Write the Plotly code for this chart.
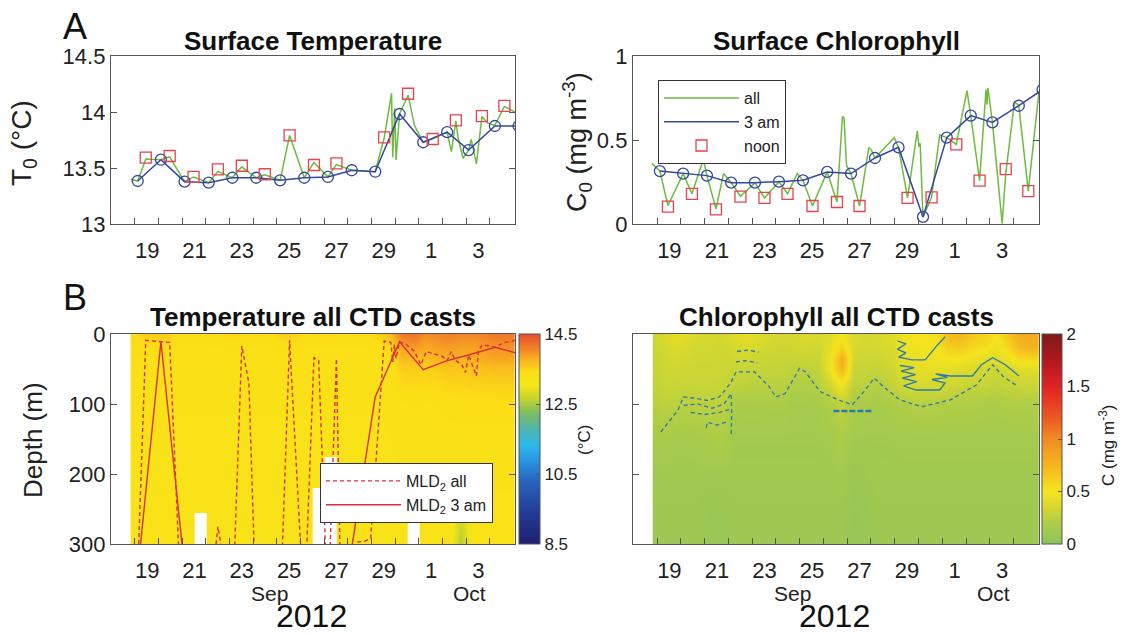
import numpy as np
import plotly.graph_objects as go

W, H = 1126, 634
def px(x): return x / W
def py(y): return 1 - y / H

FONT = "Liberation Sans, Arial, sans-serif"
GREEN = "#6dbb3f"
BLUE = "#34479b"
RED = "#e8414f"
MLDRED = "#d9303e"
CBLUE = "#2b79ad"
AX = "#555555"

# ---------------- data ----------------
day_ticks = [19, 21, 23, 25, 27, 29, 31, 33]
day_labels = ["19", "21", "23", "25", "27", "29", "1", "3"]
minor_ticks = [18.48, 19.48, 20.48, 21.48, 22.48, 23.48, 24.48, 25.48,
               26.48, 27.48, 28.48, 29.48, 30.48, 31.48, 32.48, 33.48]

# 3 am casts and noon casts (days since 1 Sep 2012; Oct 1 = 31)
t_3am = [18.6, 19.58, 20.58, 21.6, 22.6, 23.61, 24.62, 25.64, 26.64, 27.65,
         28.64, 29.67, 30.67, 31.68, 32.59, 33.7, 34.7]
T_3am = [13.384, 13.574, 13.378, 13.369, 13.413, 13.413, 13.39, 13.413, 13.42,
         13.48, 13.467, 13.982, 13.73, 13.82, 13.66, 13.875, 13.875]
C_3am = [0.315, 0.30, 0.288, 0.246, 0.246, 0.252, 0.26, 0.31, 0.30, 0.393,
         0.456, 0.042, 0.514, 0.645, 0.605, 0.704, 0.80]
MLD_3am = [340, 11, 335, 400, 400, 400, 400, 400, 400, 305, 90, 11, 51, 38, 30, 19, 28]

t_noon = [18.94, 19.95, 20.96, 21.99, 23.0, 23.97, 25.02, 26.05, 27.0, 29.02,
          30.03, 31.07, 32.05, 33.15, 34.1]
T_noon = [13.592, 13.607, 13.42, 13.488, 13.52, 13.444, 13.792, 13.527, 13.542,
          13.774, 14.163, 13.759, 13.926, 13.964, 14.054]
C_noon = [0.103, 0.179, 0.087, 0.163, 0.155, 0.179, 0.107, 0.131, 0.107, 0.155,
          0.159, 0.474, 0.258, 0.327, 0.196]

# all casts, surface temperature
t_all_T = [18.30, 18.6, 18.94, 19.58, 19.95, 20.58, 20.96, 21.6, 21.99, 22.6, 23.0,
           23.61, 23.97, 24.62, 25.02, 25.64, 26.05, 26.64, 27.0, 27.65, 28.64, 29.02,
           29.33, 29.38, 29.47, 29.52, 29.67, 30.03, 30.3, 30.67, 31.07, 31.68, 31.86,
           32.05, 32.14, 32.35, 32.59, 32.70, 32.92, 33.15, 33.4, 33.7, 34.1, 34.55]
T_all = [13.40, 13.384, 13.58, 13.574, 13.60, 13.378, 13.42, 13.369, 13.47, 13.413,
         13.51, 13.413, 13.44, 13.39, 13.79, 13.413, 13.55, 13.42, 13.53, 13.48, 13.467,
         13.77, 14.167, 13.596, 14.033, 13.571, 13.982, 14.15, 13.88, 13.73, 13.76,
         13.82, 13.646, 13.92, 13.774, 13.587, 13.66, 13.756, 13.536, 13.96, 13.9,
         13.88, 14.05, 14.0]

# all casts, surface chlorophyll
t_all_C = [18.26, 18.6, 18.94, 19.58, 19.95, 20.43, 20.58, 20.96, 21.28, 21.6, 21.99,
           22.6, 23.0, 23.61, 23.97, 24.38, 24.62, 25.02, 25.64, 26.05, 26.28, 26.35,
           26.45, 26.64, 27.0, 27.39, 27.5, 27.65, 28.46, 28.64, 29.02, 29.43, 29.5,
           29.55, 29.67, 30.03, 30.37, 30.67, 31.07, 31.52, 31.68, 32.05, 32.32, 32.36,
           32.4, 32.59, 33.0, 33.15, 33.52, 33.7, 34.1, 34.54]
C_all = [0.361, 0.315, 0.11, 0.30, 0.18, 0.385, 0.288, 0.09, 0.30, 0.246, 0.165,
         0.246, 0.155, 0.252, 0.18, 0.30, 0.26, 0.107, 0.31, 0.131, 0.64, 0.63,
         0.35, 0.30, 0.107, 0.455, 0.44, 0.393, 0.514, 0.456, 0.155, 0.555, 0.46,
         0.48, 0.042, 0.159, 0.53, 0.514, 0.474, 0.794, 0.645, 0.258, 0.80, 0.71,
         0.81, 0.605, 0.004, 0.30, 0.728, 0.704, 0.196, 0.778]

# mixed layer depth, all casts
t_mld_all = [18.6, 18.94, 19.58, 19.95, 20.4, 20.96, 21.6, 21.99, 22.6, 23.0, 23.3,
             23.61, 23.97, 24.62, 25.02, 25.64, 26.05, 26.25, 26.64, 27.0, 27.2, 27.65,
             27.92, 28.2, 28.45, 29.02, 29.3, 29.38, 29.45, 29.52, 29.67, 29.96, 30.3,
             30.57, 30.8, 31.07, 31.48, 31.68, 31.86, 32.01, 32.3, 32.46, 32.59, 32.7,
             32.92, 33.0, 33.15, 33.3, 33.7, 34.1, 34.36, 34.55]
MLD_all = [340, 9, 11, 12, 360, 400, 400, 275, 400, 17, 70, 400, 400, 400, 9, 400,
           34, 38, 400, 35, 400, 305, 297, 296, 292, 10, 12, 40, 15, 35, 11, 15, 25,
           44, 25, 28, 32, 38, 25, 37, 44, 55, 30, 40, 60, 25, 16, 16, 19, 12, 11, 9]

# CTD grid (column centres in days, depth levels in m)
grid_days = [18.45, 18.75, 19.25, 19.75, 20.25, 20.75, 21.25, 21.75, 22.25, 22.75,
             23.25, 23.75, 24.25, 24.75, 25.25, 25.75, 26.25, 26.75, 27.25, 27.75,
             28.25, 28.75, 29.25, 29.75, 30.25, 30.75, 31.25, 31.75, 32.25, 32.75,
             33.25, 33.75, 34.25, 34.6]
grid_depth = [0, 10, 20, 35, 50, 75, 100, 150, 200, 240, 270, 300]

N = None
temp_cols = [
    [13.45, 13.40, 13.37, 13.35, 13.33, 13.31, 13.29, 13.27, 13.25, 13.23, 13.22, 13.21],
    [13.55, 13.45, 13.40, 13.35, 13.33, 13.31, 13.29, 13.27, 13.25, 13.23, 13.22, 13.21],
    [13.58, 13.47, 13.40, 13.35, 13.33, 13.31, 13.29, 13.27, 13.25, 13.23, 13.22, 13.21],
    [13.58, 13.50, 13.41, 13.36, 13.33, 13.31, 13.29, 13.27, 13.25, 13.23, 13.22, 13.21],
    [13.40, 13.37, 13.35, 13.33, 13.31, 13.29, 13.27, 13.25, 13.23, 13.22, 13.21, 13.20],
    [13.39, 13.37, 13.35, 13.33, 13.31, 13.29, 13.27, 13.25, 13.23, 13.22, 13.21, 13.20],
    [13.39, 13.37, 13.35, 13.33, 13.31, 13.29, 13.27, 13.25, 13.23, 13.22, N, N],
    [13.43, 13.39, 13.36, 13.33, 13.31, 13.29, 13.27, 13.25, 13.23, 13.22, 13.21, 13.20],
    [13.45, 13.40, 13.36, 13.33, 13.31, 13.29, 13.27, 13.25, 13.23, 13.22, 13.21, 13.20],
    [13.47, 13.41, 13.37, 13.34, 13.31, 13.29, 13.27, 13.25, 13.23, 13.22, 13.21, 13.20],
    [13.43, 13.39, 13.36, 13.33, 13.31, 13.29, 13.27, 13.25, 13.23, 13.22, 13.21, 13.20],
    [13.40, 13.37, 13.35, 13.33, 13.31, 13.29, 13.27, 13.25, 13.23, 13.22, 13.21, 13.20],
    [13.40, 13.37, 13.35, 13.33, 13.31, 13.29, 13.27, 13.25, 13.23, 13.22, 13.21, 13.20],
    [13.57, 13.45, 13.38, 13.34, 13.31, 13.29, 13.27, 13.25, 13.23, 13.22, 13.21, 13.20],
    [13.53, 13.43, 13.37, 13.33, 13.31, 13.29, 13.27, 13.25, 13.23, 13.22, 13.21, 13.20],
    [13.41, 13.38, 13.35, 13.33, 13.31, 13.29, 13.27, 13.25, 13.23, 13.22, 13.21, 13.20],
    [13.45, 13.40, 13.36, 13.33, 13.31, 13.29, 13.27, 13.25, 13.23, N, N, N],
    [13.45, 13.40, 13.36, 13.33, 13.31, 13.29, 13.27, 13.25, N, N, N, N],
    [13.41, 13.38, 13.35, 13.33, 13.31, 13.29, 13.27, 13.25, 13.23, 13.22, 13.21, 13.20],
    [13.43, 13.39, 13.36, 13.33, 13.31, 13.29, 13.27, 13.25, 13.23, 13.22, 13.21, 13.20],
    [13.41, 13.38, 13.35, 13.33, 13.31, 13.29, 13.27, 13.25, 13.23, 13.22, 13.21, 13.20],
    [13.50, 13.43, 13.38, 13.34, 13.31, 13.29, 13.27, 13.25, 13.23, 13.22, 13.21, 13.20],
    [13.70, 13.55, 13.43, 13.37, 13.33, 13.30, 13.28, 13.26, 13.24, 13.22, 13.21, 13.20],
    [14.15, 14.00, 13.85, 13.70, 13.55, 13.43, 13.35, 13.30, 13.27, 13.25, 13.23, 13.22],
    [14.20, 14.05, 13.90, 13.70, 13.55, 13.45, 13.37, 13.31, 13.27, N, N, N],
    [14.00, 13.90, 13.80, 13.67, 13.53, 13.43, 13.35, 13.30, 13.27, 13.25, 13.23, 13.22],
    [14.05, 13.95, 13.85, 13.73, 13.57, 13.45, 13.37, 13.31, 13.27, 13.25, 13.23, 13.22],
    [14.10, 14.00, 13.90, 13.77, 13.61, 13.47, 13.39, 13.32, 13.27, 13.25, 13.23, 13.22],
    [14.05, 13.95, 13.85, 13.75, 13.60, 13.47, 13.39, 13.33, 13.27, 13.05, 12.70, 12.55],
    [14.05, 13.95, 13.87, 13.77, 13.65, 13.50, 13.40, 13.33, 13.27, 13.25, 13.23, 13.22],
    [14.10, 14.00, 13.90, 13.80, 13.65, 13.50, 13.41, 13.33, 13.28, 13.25, 13.23, 13.22],
    [14.15, 14.05, 13.95, 13.83, 13.67, 13.51, 13.41, 13.33, 13.28, 13.25, 13.23, 13.22],
    [14.15, 14.05, 13.95, 13.83, 13.67, 13.51, 13.41, 13.33, 13.28, 13.25, 13.23, 13.22],
    [14.15, 14.05, 13.95, 13.83, 13.67, 13.51, 13.41, 13.33, 13.28, 13.25, 13.23, 13.22],
]

chl_cols = [
    [0.33, 0.33, 0.32, 0.31, 0.30, 0.28, 0.24, 0.16, 0.12, 0.11, 0.10, 0.10],
    [0.36, 0.36, 0.35, 0.33, 0.32, 0.30, 0.26, 0.17, 0.12, 0.11, 0.10, 0.10],
    [0.42, 0.40, 0.38, 0.35, 0.33, 0.30, 0.25, 0.15, 0.12, 0.11, 0.10, 0.10],
    [0.40, 0.38, 0.36, 0.34, 0.32, 0.30, 0.24, 0.15, 0.12, 0.11, 0.10, 0.10],
    [0.36, 0.35, 0.34, 0.33, 0.32, 0.30, 0.25, 0.16, 0.12, 0.11, 0.10, 0.10],
    [0.35, 0.35, 0.34, 0.33, 0.32, 0.30, 0.26, 0.18, 0.12, 0.10, 0.08, 0.08],
    [0.34, 0.34, 0.33, 0.32, 0.31, 0.30, 0.25, 0.20, 0.12, 0.10, 0.08, 0.08],
    [0.40, 0.38, 0.36, 0.33, 0.30, 0.26, 0.18, 0.13, 0.12, 0.11, 0.10, 0.10],
    [0.42, 0.40, 0.37, 0.33, 0.30, 0.25, 0.17, 0.13, 0.12, 0.11, 0.10, 0.10],
    [0.40, 0.38, 0.35, 0.32, 0.28, 0.24, 0.17, 0.13, 0.12, 0.11, 0.10, 0.10],
    [0.36, 0.35, 0.33, 0.31, 0.28, 0.24, 0.18, 0.13, 0.12, 0.11, 0.10, 0.10],
    [0.35, 0.34, 0.32, 0.30, 0.28, 0.24, 0.18, 0.13, 0.12, 0.11, 0.10, 0.10],
    [0.36, 0.35, 0.33, 0.30, 0.26, 0.20, 0.15, 0.13, 0.12, 0.11, 0.10, 0.10],
    [0.38, 0.36, 0.34, 0.30, 0.26, 0.20, 0.15, 0.13, 0.12, 0.11, 0.10, 0.10],
    [0.36, 0.35, 0.33, 0.31, 0.28, 0.22, 0.16, 0.13, 0.12, 0.11, 0.10, 0.10],
    [0.40, 0.40, 0.42, 0.45, 0.45, 0.32, 0.20, 0.14, 0.12, 0.11, 0.10, 0.10],
    [0.50, 0.52, 0.60, 0.80, 0.75, 0.45, 0.28, 0.18, 0.13, 0.11, 0.10, 0.10],
    [0.36, 0.36, 0.35, 0.33, 0.30, 0.25, 0.18, 0.13, 0.10, 0.08, 0.07, 0.07],
    [0.35, 0.35, 0.34, 0.32, 0.30, 0.24, 0.17, 0.13, 0.11, 0.09, 0.08, 0.08],
    [0.36, 0.36, 0.35, 0.32, 0.28, 0.22, 0.16, 0.13, 0.12, 0.11, 0.10, 0.10],
    [0.38, 0.38, 0.36, 0.34, 0.32, 0.26, 0.18, 0.13, 0.12, 0.11, 0.10, 0.10],
    [0.45, 0.45, 0.44, 0.42, 0.38, 0.32, 0.20, 0.14, 0.12, 0.11, 0.10, 0.10],
    [0.50, 0.50, 0.48, 0.45, 0.42, 0.35, 0.22, 0.14, 0.12, 0.11, 0.10, 0.10],
    [0.50, 0.50, 0.48, 0.46, 0.42, 0.35, 0.22, 0.14, 0.12, 0.11, 0.10, 0.10],
    [0.52, 0.52, 0.50, 0.47, 0.43, 0.35, 0.22, 0.14, 0.12, 0.11, 0.10, 0.10],
    [0.70, 0.68, 0.60, 0.50, 0.42, 0.32, 0.20, 0.14, 0.12, 0.11, 0.10, 0.10],
    [0.75, 0.70, 0.62, 0.50, 0.40, 0.30, 0.20, 0.14, 0.12, 0.11, 0.10, 0.10],
    [0.62, 0.60, 0.55, 0.45, 0.38, 0.28, 0.20, 0.14, 0.12, 0.11, 0.10, 0.10],
    [0.60, 0.58, 0.52, 0.42, 0.35, 0.28, 0.19, 0.14, 0.12, 0.11, 0.10, 0.10],
    [0.50, 0.48, 0.45, 0.40, 0.33, 0.26, 0.18, 0.14, 0.12, 0.11, 0.10, 0.10],
    [0.65, 0.62, 0.56, 0.45, 0.36, 0.28, 0.20, 0.14, 0.12, 0.11, 0.10, 0.10],
    [0.80, 0.78, 0.72, 0.55, 0.40, 0.30, 0.20, 0.14, 0.12, 0.11, 0.10, 0.10],
    [0.82, 0.80, 0.75, 0.56, 0.40, 0.30, 0.20, 0.14, 0.12, 0.11, 0.10, 0.10],
    [0.80, 0.78, 0.72, 0.55, 0.40, 0.30, 0.20, 0.14, 0.12, 0.11, 0.10, 0.10],
]

# chlorophyll isolines (all casts dashed, 3 am solid)
chl_dash_t = [18.64, 19.36, 19.59, 20.13, 20.6, 21.1, 21.58, 21.81, 22.58, 23.19, 23.49,
              23.87, 24.48, 24.72, 25.33, 26.09, 26.70, 27.24, 27.62, 28.0, 28.69, 29.61,
              30.83, 31.91, 32.6, 33.05, 33.67]
chl_dash_z = [140, 109, 90, 92, 95, 90, 70, 54, 54, 75, 90, 85, 49, 54, 82, 94, 101, 80,
              63, 75, 94, 104, 94, 73, 44, 61, 75]
chl_dash2_t = [19.6, 20.2, 20.8, 21.3, 21.6, 21.62, 21.6]
chl_dash2_z = [102, 100, 106, 100, 85, 115, 145]
chl_dash3_t = [19.9, 20.5, 21.1, 21.5]
chl_dash3_z = [112, 115, 112, 108]
chl_dash4_t = [20.55, 20.6, 21.0, 21.45]
chl_dash4_z = [134, 126, 130, 125]
chl_dash5_t = [21.8, 22.2, 22.7]
chl_dash5_z = [40, 38, 41]
chl_dash6_t = [21.85, 22.3, 22.75]
chl_dash6_z = [25, 23, 26]
chl_solid1_t = [28.6, 28.95, 28.6, 28.95, 28.65, 29.2, 29.76, 30.22, 30.6]
chl_solid1_z = [10, 14, 22, 27, 33, 37, 37, 18, 4]
chl_solid2_t = [28.7, 29.3, 28.75, 29.35, 28.8, 29.4, 28.85, 29.38, 30.37, 30.6, 30.05,
                30.7, 30.2, 30.83, 31.75, 32.13, 32.6, 33.13, 33.71]
chl_solid2_z = [45, 48, 53, 58, 63, 68, 74, 80, 80, 70, 65, 62, 57, 60, 60, 44, 34, 44, 60]
chl_deep_t = [25.9, 27.5]
chl_deep_z = [110, 110]

temp_scale = [
    [0.0, "rgb(30,30,110)"], [0.15, "rgb(35,60,150)"], [0.30, "rgb(40,100,190)"],
    [0.40, "rgb(40,150,225)"], [0.47, "rgb(45,185,235)"], [0.55, "rgb(80,180,170)"],
    [0.63, "rgb(130,190,90)"], [0.70, "rgb(205,215,40)"], [0.76, "rgb(246,230,25)"],
    [0.82, "rgb(252,222,22)"], [0.87, "rgb(250,185,30)"], [0.93, "rgb(242,130,40)"],
    [1.0, "rgb(232,78,45)"]]
chl_scale = [
    [0.0, "rgb(140,195,95)"], [0.10, "rgb(175,205,70)"], [0.20, "rgb(225,220,40)"],
    [0.25, "rgb(245,228,30)"], [0.35, "rgb(245,190,30)"], [0.50, "rgb(242,140,35)"],
    [0.62, "rgb(235,80,35)"], [0.75, "rgb(225,35,35)"], [0.88, "rgb(175,25,30)"],
    [1.0, "rgb(125,25,25)"]]

temp_z = np.array(temp_cols, dtype=float).T
chl_z = np.array(chl_cols, dtype=float).T

# ---------------- figure ----------------
fig = go.Figure()

def line_tr(x, y, xa, ya, color, width=1.5, dash="solid", name=None, legend=None, show=False):
    return go.Scatter(x=x, y=y, mode="lines", line=dict(color=color, width=width, dash=dash),
                      xaxis=xa, yaxis=ya, name=name, showlegend=show, legend=legend,
                      hoverinfo="skip")

def circles(x, y, xa, ya):
    return go.Scatter(x=x, y=y, mode="markers", xaxis=xa, yaxis=ya, showlegend=False,
                      marker=dict(symbol="circle-open", size=11, color=BLUE, line=dict(width=1.3)),
                      hoverinfo="skip")

def squares(x, y, xa, ya, show=False):
    return go.Scatter(x=x, y=y, mode="markers", xaxis=xa, yaxis=ya, name="noon",
                      legend="legend", showlegend=show,
                      marker=dict(symbol="square-open", size=11, color=RED, line=dict(width=1.3)),
                      hoverinfo="skip")

# top-left
fig.add_trace(line_tr(t_all_T, T_all, "x", "y", GREEN))
fig.add_trace(line_tr(t_3am, T_3am, "x", "y", BLUE))
fig.add_trace(circles(t_3am, T_3am, "x", "y"))
fig.add_trace(squares(t_noon, T_noon, "x", "y"))
# top-right
fig.add_trace(line_tr(t_all_C, C_all, "x2", "y2", GREEN, name="all", legend="legend", show=True))
fig.add_trace(line_tr(t_3am, C_3am, "x2", "y2", BLUE, name="3 am", legend="legend", show=True))
fig.add_trace(circles(t_3am, C_3am, "x2", "y2"))
fig.add_trace(squares(t_noon, C_noon, "x2", "y2", show=True))

# bottom-left heatmap
fig.add_trace(go.Heatmap(x=grid_days, y=grid_depth, z=temp_z, xaxis="x3", yaxis="y3",
                         colorscale=temp_scale, zmin=8.5, zmax=14.5, zsmooth="best",
                         hoverinfo="skip",
                         colorbar=dict(x=px(519), xanchor="left", y=py(334), yanchor="top",
                                       len=210, lenmode="pixels", thickness=21,
                                       outlinecolor=AX, outlinewidth=1, xpad=0, ypad=0,
                                       tickvals=[8.5, 10.5, 12.5, 14.5],
                                       ticktext=["8.5", "10.5", "12.5", "14.5"],
                                       ticks="inside", ticklen=4, tickcolor=AX,
                                       tickfont=dict(size=17, color="#222"))))
fig.add_trace(line_tr(t_mld_all, MLD_all, "x3", "y3", MLDRED, 1.4, "4px,3px",
                      name="MLD<sub>2</sub> all", legend="legend2", show=True))
fig.add_trace(line_tr(t_3am, MLD_3am, "x3", "y3", MLDRED, 1.4, "solid",
                      name="MLD<sub>2</sub> 3 am", legend="legend2", show=True))

# bottom-right heatmap
fig.add_trace(go.Heatmap(x=grid_days, y=grid_depth, z=chl_z, xaxis="x4", yaxis="y4",
                         colorscale=chl_scale, zmin=0, zmax=2, zsmooth="best",
                         hoverinfo="skip",
                         colorbar=dict(x=px(1042), xanchor="left", y=py(334), yanchor="top",
                                       len=210, lenmode="pixels", thickness=20,
                                       outlinecolor=AX, outlinewidth=1, xpad=0, ypad=0,
                                       tickvals=[0, 0.5, 1, 1.5, 2],
                                       ticktext=["0", "0.5", "1", "1.5", "2"],
                                       ticks="inside", ticklen=4, tickcolor=AX,
                                       tickfont=dict(size=17, color="#222"))))
for tx, tz, dsh, wd in [(chl_dash_t, chl_dash_z, "4px,3px", 1.3),
                        (chl_dash2_t, chl_dash2_z, "4px,3px", 1.3),
                        (chl_dash3_t, chl_dash3_z, "4px,3px", 1.3),
                        (chl_dash4_t, chl_dash4_z, "4px,3px", 1.3),
                        (chl_dash5_t, chl_dash5_z, "4px,3px", 1.3),
                        (chl_dash6_t, chl_dash6_z, "4px,3px", 1.3),
                        (chl_solid1_t, chl_solid1_z, "solid", 1.3),
                        (chl_solid2_t, chl_solid2_z, "solid", 1.3),
                        (chl_deep_t, chl_deep_z, "6px,2px", 2.5)]:
    fig.add_trace(line_tr(tx, tz, "x4", "y4", CBLUE, wd, dsh))

# ---------------- axes ----------------
xL = [px(111), px(515)]
xR = [px(633), px(1039)]
yT = [py(224), py(56)]
yB = [py(544), py(334)]

xcommon = dict(range=[17.47, 34.55], tickmode="array", tickvals=day_ticks, ticktext=day_labels,
               ticks="", showline=True, linecolor=AX, linewidth=1.3, mirror=True,
               showgrid=False, zeroline=False, tickfont=dict(size=22, color="#222"),
               ticklabelstandoff=6,
               minor=dict(tickmode="array", tickvals=minor_ticks, ticks="inside",
                          ticklen=6, tickcolor=AX, tickwidth=1.2, showgrid=False))
ycommon = dict(ticks="inside", ticklen=6, tickcolor=AX, tickwidth=1.2, showline=True,
               linecolor=AX, linewidth=1.3, mirror="ticks", showgrid=False, zeroline=False,
               tickfont=dict(size=22, color="#222"))

fig.update_layout(
    width=W, height=H, margin=dict(l=0, r=0, t=0, b=0, autoexpand=False),
    paper_bgcolor="white", plot_bgcolor="white",
    font=dict(family=FONT, color="#111"),
    xaxis=dict(domain=xL, anchor="y", **xcommon),
    xaxis2=dict(domain=xR, anchor="y2", **xcommon),
    xaxis3=dict(domain=xL, anchor="y3", **xcommon),
    xaxis4=dict(domain=xR, anchor="y4", **xcommon),
    yaxis=dict(domain=yT, anchor="x", range=[13, 14.5], tickvals=[13, 13.5, 14, 14.5],
               ticktext=["13", "13.5", "14", "14.5"], **ycommon),
    yaxis2=dict(domain=yT, anchor="x2", range=[0, 1], tickvals=[0, 0.5, 1],
                ticktext=["0", "0.5", "1"], **ycommon),
    yaxis3=dict(domain=yB, anchor="x3", range=[300, 0], tickvals=[0, 100, 200, 300],
                ticktext=["0", "100", "200", "300"], **ycommon),
    yaxis4=dict(domain=yB, anchor="x4", range=[300, 0], tickvals=[0, 100, 200, 300],
                showticklabels=False, **ycommon),
    legend=dict(x=px(658), y=py(80), xanchor="left", yanchor="top", bgcolor="white",
                bordercolor="#333", borderwidth=1, font=dict(size=16, color="#222"),
                tracegroupgap=0, itemwidth=75),
    legend2=dict(x=px(320), y=py(463), xanchor="left", yanchor="top", bgcolor="white",
                 bordercolor="#333", borderwidth=1, font=dict(size=16, color="#222"),
                 tracegroupgap=0, itemwidth=75),
)

ann = [
    dict(text="A", x=px(75), y=py(27), font=dict(size=36, color="#111")),
    dict(text="B", x=px(75), y=py(297), font=dict(size=36, color="#111")),
    dict(text="<b>Surface Temperature</b>", x=px(313), y=py(41), font=dict(size=26, color="#111")),
    dict(text="<b>Surface Chlorophyll</b>", x=px(836), y=py(41), font=dict(size=26, color="#111")),
    dict(text="<b>Temperature all CTD casts</b>", x=px(313), y=py(317), font=dict(size=26, color="#111")),
    dict(text="<b>Chlorophyll all CTD casts</b>", x=px(836), y=py(317), font=dict(size=26, color="#111")),
    dict(text="T<sub>0</sub> (°C)", x=px(23), y=py(143), textangle=-90, font=dict(size=28, color="#222")),
    dict(text="C<sub>0</sub> (mg m<sup>-3</sup>)", x=px(577), y=py(142), textangle=-90,
         font=dict(size=27, color="#222")),
    dict(text="Depth (m)", x=px(33), y=py(440), textangle=-90, font=dict(size=26, color="#222")),
    dict(text="(°C)", x=px(584), y=py(440), textangle=-90, font=dict(size=17, color="#222")),
    dict(text="C (mg m<sup>-3</sup>)", x=px(1107), y=py(446), textangle=-90,
         font=dict(size=17, color="#222")),
]
for a in ann:
    a.update(xref="paper", yref="paper", showarrow=False, xanchor="center", yanchor="middle")
    fig.add_annotation(**a)

for xr in ["x3", "x4"]:
    fig.add_annotation(text="Sep", x=24.18, xref=xr, y=py(593), yref="paper", showarrow=False,
                       font=dict(size=21, color="#222"), yanchor="middle")
    fig.add_annotation(text="Oct", x=32.63, xref=xr, y=py(593), yref="paper", showarrow=False,
                       font=dict(size=21, color="#222"), yanchor="middle")
    fig.add_annotation(text="2012", x=25.95, xref=xr, y=py(616), yref="paper", showarrow=False,
                       font=dict(size=32, color="#111"), yanchor="middle")

fig.write_html("out.html")
